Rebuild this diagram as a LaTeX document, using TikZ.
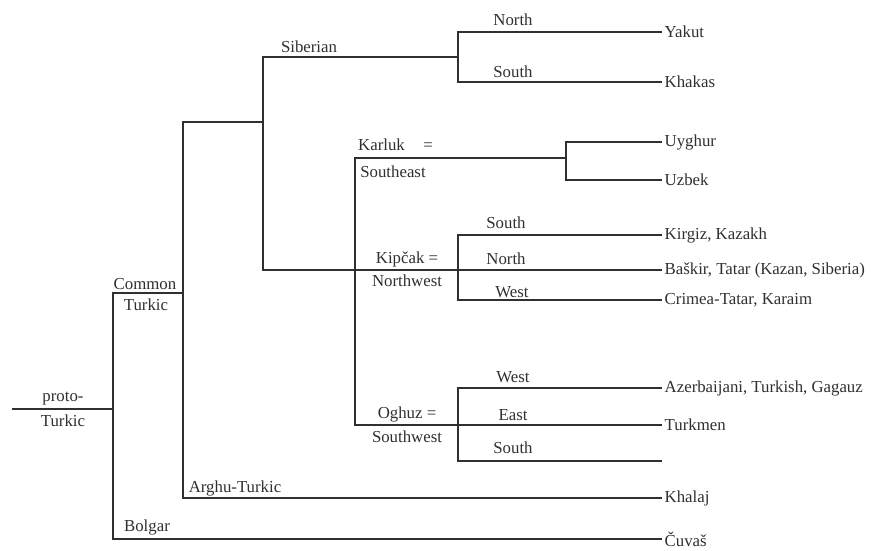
\documentclass[tikz,border=0pt]{standalone}
\usepackage{fontspec}
\setmainfont{Liberation Serif}
\usepackage{tikz}
\usepackage{xcolor}
\definecolor{inkgray}{HTML}{303030}

\begin{document}
\begin{tikzpicture}[x=1pt, y=-1pt]
            % Define styles
            \tikzstyle{branch} = [draw=inkgray, line width=1.3pt]
            \tikzstyle{leaf} = [anchor=west, inner sep=2.5pt, text=inkgray, font=\fontsize{16.8}{19}\selectfont]
            \tikzstyle{tag} = [inner sep=0pt, text=inkgray, font=\fontsize{16.8}{19}\selectfont]

            \useasboundingbox[fill=white] (0,0) rectangle (876,551);

            % Split points
            \coordinate (root) at (12,409);
            \coordinate (proto) at (113,409);
            \coordinate (common) at (183,293);
            \coordinate (upper) at (263,122);
            \coordinate (sib) at (458,57);
            \coordinate (kk) at (355,270);
            \coordinate (karluk) at (566,158);
            \coordinate (kipcak) at (458,270);
            \coordinate (oghuz) at (458,425);
            \coordinate (ogsouth) at (662,461);

            % Languages
            \node (yakut) [leaf] at (662,32) {Yakut};
            \node (khakas) [leaf] at (662,82) {Khakas};
            \node (uyghur) [leaf] at (662,142) {Uyghur};
            \node (uzbek) [leaf] at (662,180) {Uzbek};
            \node (kirgiz) [leaf] at (662,235) {Kirgiz, Kazakh};
            \node (baskir) [leaf] at (662,270) {Baškir, Tatar (Kazan, Siberia)};
            \node (crimea) [leaf] at (662,300) {Crimea-Tatar, Karaim};
            \node (azeri) [leaf] at (662,388) {Azerbaijani, Turkish, Gagauz};
            \node (turkmen) [leaf] at (662,425) {Turkmen};
            \node (khalaj) [leaf] at (662,498) {Khalaj};
            \node (cuvas) [leaf, inner ysep=0pt] at (662,539) {Čuvaš};

            % Branch names
            \node (protoA) [tag] at (63,399) {proto-};
            \node (protoB) [tag] at (63,421) {Turkic};
            \node (commonA) [tag] at (145,284) {Common};
            \node (commonB) [tag] at (146,305) {Turkic};
            \node (siberian) [tag] at (309,47) {Siberian};
            \node (sibnorth) [tag] at (513,20) {North};
            \node (sibsouth) [tag] at (513,72) {South};
            \node (karlukA) [tag, anchor=west] at (358,145) {Karluk\hspace{1.1em}=};
            \node (karlukB) [tag] at (393,172) {Southeast};
            \node (kipsouth) [tag] at (506,223) {South};
            \node (kipnorth) [tag] at (506,259) {North};
            \node (kipwest) [tag] at (512,292) {West};
            \node (kipcakA) [tag] at (407,259) {Kipčak =};
            \node (kipcakB) [tag] at (407,281) {Northwest};
            \node (ogwest) [tag] at (513,377) {West};
            \node (ogeast) [tag] at (513,415) {East};
            \node (ogsouthtag) [tag] at (513,448) {South};
            \node (oghuzA) [tag] at (407,414) {Oghuz =};
            \node (oghuzB) [tag] at (407,437) {Southwest};
            \node (arghu) [tag] at (235,488) {Arghu-Turkic};
            \node (bolgar) [tag] at (147,527) {Bolgar};

            % Tree lines
            \draw [branch] (root) -- (proto);
            \draw [branch] (common) -| (proto) |- (cuvas.west);
            \draw [branch] (upper) -| (common) |- (khalaj.west);
            \draw [branch] (sib) -| (upper) |- (baskir.west);
            \draw [branch] (yakut.west) -| (sib) |- (khakas.west);
            \draw [branch] (karluk) -| (kk) |- (turkmen.west);
            \draw [branch] (uyghur.west) -| (karluk) |- (uzbek.west);
            \draw [branch] (kirgiz.west) -| (kipcak) |- (crimea.west);
            \draw [branch] (azeri.west) -| (oghuz) |- (ogsouth);
        \end{tikzpicture}
\end{document}
